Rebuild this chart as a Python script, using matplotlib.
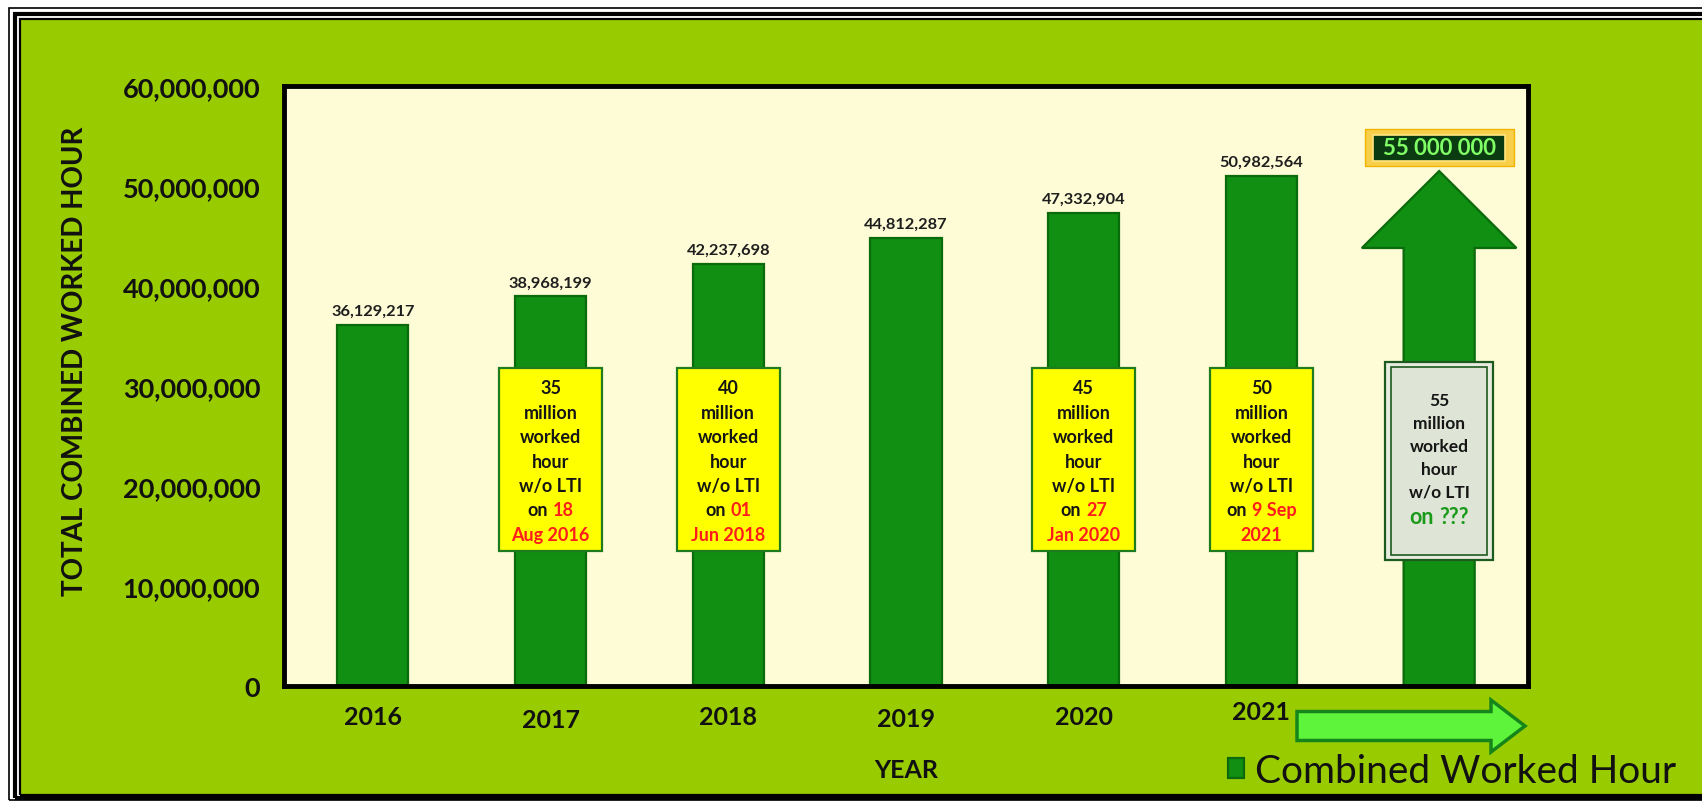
import matplotlib
matplotlib.use("Agg")
import matplotlib.pyplot as plt
from matplotlib.patches import Rectangle, FancyArrow
from matplotlib.offsetbox import TextArea, HPacker, AnnotationBbox
from matplotlib.ticker import FuncFormatter
from matplotlib.transforms import ScaledTranslation

plt.rcParams['font.family'] = ['Lato', 'DejaVu Sans']

# combined worked hours per year
years = ['2016', '2017', '2018', '2019', '2020', '2021']
hours = [36129217, 38968199, 42237698, 44812287, 47332904, 50982564]
target = 55000000
target_text = '55 000 000'

# milestone notes (bar index, millions, day, month/year)
ms_pos = [1, 2, 4, 5]
ms_million = ['35', '40', '45', '50']
ms_day = ['18', '01', '27', '9 Sep']
ms_month = ['Aug 2016', 'Jun 2018', 'Jan 2020', '2021']

W, H = 1702, 803
fig = plt.figure(figsize=(W / 100, H / 100), dpi=100, facecolor='white')


def fx(px):
    return px / W


def fy(py):
    return 1 - py / H


# green panel with a triple black frame
fig.add_artist(Rectangle((fx(21), fy(795)), fx(1720 - 21), (795 - 21) / H,
                         transform=fig.transFigure, facecolor='#99cc00',
                         edgecolor='none', zorder=0))
for off, bottom, lw in [(9, 801, 1.2), (15, 798.5, 3.0), (20, 796, 1.6)]:
    fig.add_artist(Rectangle((fx(off), fy(bottom)), fx(1730 - off), (bottom - off) / H,
                             transform=fig.transFigure, facecolor='none',
                             edgecolor='black', linewidth=lw, zorder=1))

ax = fig.add_axes([fx(284), fy(687), fx(1528 - 284), (687 - 87) / H])
ax.set_facecolor('#fefcd6')
ax.set_xlim(-0.5, 6.5)
ax.set_ylim(0, 60e6)

bars = ax.bar(range(len(years)), hours, width=0.4, color='#108f12',
              edgecolor='#0a6a0c', linewidth=1.6, zorder=2)
for i, v in enumerate(hours):
    ax.annotate(f'{v:,}', (i, v), xytext=(0, 5), textcoords='offset points',
                ha='center', va='bottom', fontsize=11.8, fontweight='bold',
                color='#1e1e1e', zorder=4)

# the "next target" arrow
tip = target - 3.5e6
ax.add_patch(FancyArrow(6, 0, 0, tip, width=0.4, head_width=0.87,
                        head_length=7.7e6, length_includes_head=True,
                        facecolor='#108f12', edgecolor='#0a6a0c',
                        linewidth=1.6, zorder=2))
ax.add_patch(Rectangle((6 - 0.42, target - 3.0e6), 0.84, 3.75e6,
                       facecolor='#f8cf4a', edgecolor='#f0b400', linewidth=1, zorder=3))
ax.add_patch(Rectangle((6 - 0.37, target - 2.45e6), 0.74, 2.6e6,
                       facecolor='#0b3b10', edgecolor='#ffe680', linewidth=1.2, zorder=3))
ax.text(6, target - 1.15e6, target_text, ha='center', va='center', fontsize=16,
        fontweight='bold', color='#80ff66', zorder=4)


def line_at(x, y, parts, size=12.5):
    areas = [TextArea(t, textprops=dict(color=c, fontsize=size, fontweight='bold'))
             for t, c in parts]
    box = HPacker(children=areas, align='baseline', pad=0, sep=3.5)
    ax.add_artist(AnnotationBbox(box, (x, y), frameon=False, box_alignment=(0.5, 0.5),
                                 pad=0, zorder=6))


black, red = '#151515', '#ff1c1c'
for pos, mil, day, month in zip(ms_pos, ms_million, ms_day, ms_month):
    ax.add_patch(Rectangle((pos - 0.29, 13.5e6), 0.58, 18.35e6, facecolor='#ffff00',
                           edgecolor='#1e7b1e', linewidth=1.6, zorder=5))
    rows = [[(mil, black)], [('million', black)], [('worked', black)], [('hour', black)],
            [('w/o LTI', black)], [('on', black), (day, red)], [(month, red)]]
    for k, parts in enumerate(rows):
        line_at(pos, 29.8e6 - k * 2.44e6, parts, size=13)

# open milestone on the arrow
ax.add_patch(Rectangle((6 - 0.305, 12.6e6), 0.61, 19.8e6, facecolor='#e8ecdf',
                       edgecolor='#1d5a1d', linewidth=1.6, zorder=5))
ax.add_patch(Rectangle((6 - 0.27, 13.1e6), 0.54, 18.8e6, facecolor='#dfe5d6',
                       edgecolor='#1d5a1d', linewidth=1.2, zorder=5))
for k, word in enumerate(['55', 'million', 'worked', 'hour', 'w/o LTI']):
    line_at(6, 28.6e6 - k * 2.3e6, [(word, black)], size=12.5)
line_at(6, 16.9e6, [('on', '#1a9a1a'), ('???', '#1a9a1a')], size=15.5)

ax.set_yticks(range(0, 60000001, 10000000))
ax.yaxis.set_major_formatter(FuncFormatter(lambda v, p: f'{v:,.0f}'))
ax.set_xticks(range(len(years)))
ax.set_xticklabels(years)
ax.tick_params(axis='y', length=0, pad=17, labelsize=19.5)
ax.tick_params(axis='x', length=0, pad=14, labelsize=18)
for lbl in ax.get_yticklabels() + ax.get_xticklabels():
    lbl.set_fontweight('bold')
    lbl.set_color('#111111')
for lbl, dy in zip(ax.get_xticklabels(), [0, -3, 0, -2, 0, 5]):
    lbl.set_transform(lbl.get_transform() + ScaledTranslation(0, dy / 100, fig.dpi_scale_trans))

for s in ax.spines.values():
    s.set_linewidth(3.5)
    s.set_color('black')
    s.set_zorder(7)

ax.set_xlabel('YEAR', fontsize=18, fontweight='bold', va='center', color='#111111')
ax.xaxis.set_label_coords(0.5, -0.14)
ax.set_ylabel('TOTAL COMBINED WORKED HOUR', fontsize=20, fontweight='bold',
              va='center', color='#111111')
ax.yaxis.set_label_coords(-0.168, 0.542)

# light green arrow under the axis
fig.add_artist(FancyArrow(fx(1297), fy(727), fx(1525) - fx(1297), 0,
                          width=(742 - 713) / H, head_width=(753 - 701) / H,
                          head_length=34 / W, length_includes_head=True,
                          transform=fig.transFigure, facecolor='#5ef43c',
                          edgecolor='#17861a', linewidth=2.5, zorder=3))

fig.legend([bars], ['Combined Worked Hour'], loc='center left',
           bbox_to_anchor=(fx(1228), fy(772)), frameon=False, fontsize=28,
           handlelength=0.4, handleheight=0.4, handletextpad=0.3,
           borderaxespad=0, borderpad=0, labelcolor='#111111')

fig.savefig('out.png', dpi=100)
